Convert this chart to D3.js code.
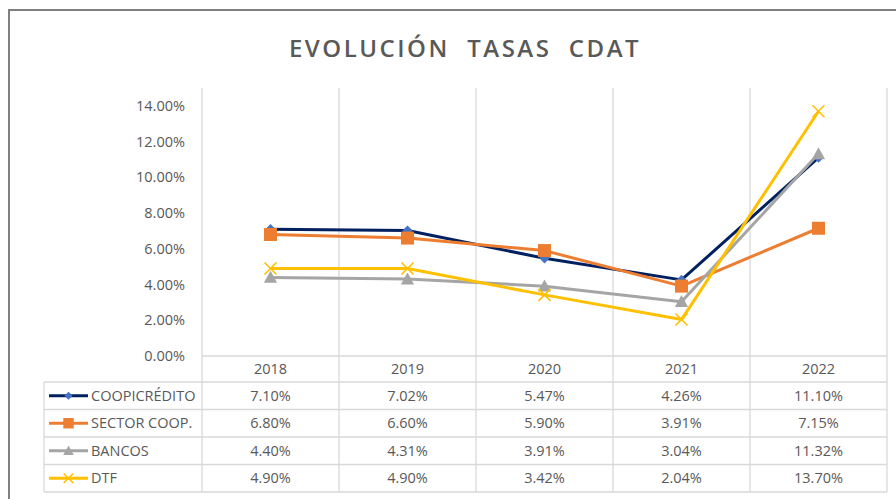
<!DOCTYPE html>
<html>
<head>
<meta charset="utf-8">
<script src="https://cdn.jsdelivr.net/npm/d3@7"></script>
<style>
  html, body { margin: 0; padding: 0; background: #fff; }
  svg { display: block; }
</style>
</head>
<body>
<div id="chart"></div>
<script>
'use strict';

var years = ['2018', '2019', '2020', '2021', '2022'];
var seriesNames = ['COOPICRÉDITO', 'SECTOR COOP.', 'BANCOS', 'DTF'];
var coopicredito = [7.10, 7.02, 5.47, 4.26, 11.10];
var sectorCoop = [6.80, 6.60, 5.90, 3.91, 7.15];
var bancos = [4.40, 4.31, 3.91, 3.04, 11.32];
var dtf = [4.90, 4.90, 3.42, 2.04, 13.70];
var yTicks = [0, 2, 4, 6, 8, 10, 12, 14];

var W = 896, H = 499;
var TEXT = '#595959';
var GRID = '#d9d9d9';
var FONT = '"Open Sans", sans-serif';

var series = [
    {name: seriesNames[0], values: coopicredito, line: '#002060', fill: '#4472c4', marker: 'diamond'},
    {name: seriesNames[1], values: sectorCoop, line: '#ed7d31', fill: '#ed7d31', marker: 'square'},
    {name: seriesNames[2], values: bancos, line: '#a5a5a5', fill: '#a5a5a5', marker: 'triangle'},
    {name: seriesNames[3], values: dtf, line: '#ffc000', fill: '#ffc000', marker: 'x'}
];

var svg = d3.select('#chart').append('svg')
    .attr('width', W)
    .attr('height', H);

// chart frame (only left and top visible in the crop)
svg.append('path')
    .attr('d', 'M9,' + H + 'V10H' + W)
    .attr('fill', 'none')
    .attr('stroke', '#808080')
    .attr('stroke-width', 2);

svg.append('text')
    .attr('x', 465)
    .attr('y', 57)
    .attr('text-anchor', 'middle')
    .attr('font-family', FONT)
    .attr('font-weight', 600)
    .attr('font-size', 24)
    .attr('letter-spacing', 2.5)
    .attr('fill', TEXT)
    .style('white-space', 'pre')
    .text('EVOLUCIÓN  TASAS  CDAT');

var plotLeft = 202, plotRight = 887, plotTop = 88, plotBottom = 356;
var tableLeft = 44, tableBottom = 492, headerBottom = 382;

var x = d3.scaleBand().domain(years).range([plotLeft, plotRight]);
var y = d3.scaleLinear().domain([0, 15]).range([plotBottom, plotTop]);
var rows = d3.scaleBand().domain(seriesNames).range([headerBottom, tableBottom]);

function cx(i) { return x(years[i]) + x.bandwidth() / 2; }

var grid = svg.append('g').attr('stroke', GRID).attr('stroke-width', 1.3);

// category boundaries run from the plot top through the table
var edges = years.map(function(d) { return x(d); }).concat([plotRight]);
grid.selectAll('line.v').data(edges).enter().append('line')
    .attr('x1', function(d) { return d; })
    .attr('x2', function(d) { return d; })
    .attr('y1', plotTop)
    .attr('y2', tableBottom);

grid.append('line')
    .attr('x1', plotLeft).attr('x2', plotRight)
    .attr('y1', plotBottom).attr('y2', plotBottom);

var rowEdges = seriesNames.map(function(d) { return rows(d); }).concat([tableBottom]);
grid.selectAll('line.h').data(rowEdges).enter().append('line')
    .attr('x1', tableLeft).attr('x2', plotRight)
    .attr('y1', function(d) { return d; })
    .attr('y2', function(d) { return d; });

grid.append('line')
    .attr('x1', tableLeft).attr('x2', tableLeft)
    .attr('y1', headerBottom).attr('y2', tableBottom);

// y axis labels
var yAxis = svg.append('g')
    .attr('transform', 'translate(' + (plotLeft - 17) + ',0)')
    .call(d3.axisLeft(y).tickValues(yTicks).tickSize(0).tickPadding(0)
        .tickFormat(function(d) { return d.toFixed(2) + '%'; }));
yAxis.select('.domain').remove();
yAxis.selectAll('text')
    .attr('font-family', FONT)
    .attr('font-size', 14.5)
    .attr('fill', TEXT);

// year header row
svg.append('g').selectAll('text').data(years).enter().append('text')
    .attr('x', function(d, i) { return cx(i); })
    .attr('y', (plotBottom + headerBottom) / 2 + 5)
    .attr('text-anchor', 'middle')
    .attr('font-family', FONT)
    .attr('font-size', 14.5)
    .attr('fill', TEXT)
    .text(function(d) { return d; });

function drawMarker(g, s, px, py, size) {
    if(s.marker === 'diamond') {
        g.append('path')
            .attr('d', d3.symbol(d3.symbolDiamond2, size * size * 0.55)())
            .attr('transform', 'translate(' + px + ',' + py + ')')
            .attr('fill', s.fill);
    } else if(s.marker === 'square') {
        g.append('rect')
            .attr('x', px - size / 2).attr('y', py - size / 2)
            .attr('width', size).attr('height', size)
            .attr('fill', s.fill);
    } else if(s.marker === 'triangle') {
        g.append('path')
            .attr('d', 'M' + px + ',' + (py - size * 0.55) +
                'L' + (px + size * 0.55) + ',' + (py + size * 0.45) +
                'L' + (px - size * 0.55) + ',' + (py + size * 0.45) + 'Z')
            .attr('fill', s.fill);
    } else {
        var h = size / 2;
        g.append('path')
            .attr('d', 'M' + (px - h) + ',' + (py - h) + 'L' + (px + h) + ',' + (py + h) +
                'M' + (px - h) + ',' + (py + h) + 'L' + (px + h) + ',' + (py - h))
            .attr('stroke', s.fill)
            .attr('stroke-width', 1.6)
            .attr('fill', 'none');
    }
}

var markerSize = {diamond: 11, square: 13, triangle: 12, x: 12};

var line = d3.line()
    .x(function(d, i) { return cx(i); })
    .y(function(d) { return y(d); });

var linesG = svg.append('g');
series.forEach(function(s) {
    linesG.append('path')
        .datum(s.values)
        .attr('d', line)
        .attr('fill', 'none')
        .attr('stroke', s.line)
        .attr('stroke-width', 3)
        .attr('stroke-linejoin', 'round');
});
series.forEach(function(s) {
    var g = linesG.append('g');
    s.values.forEach(function(v, i) {
        drawMarker(g, s, cx(i), y(v), markerSize[s.marker]);
    });
});

// data table
series.forEach(function(s) {
    var ry = rows(s.name) + rows.bandwidth() / 2;
    var g = svg.append('g');
    g.append('line')
        .attr('x1', 49).attr('x2', 88)
        .attr('y1', ry).attr('y2', ry)
        .attr('stroke', s.line)
        .attr('stroke-width', 3);
    drawMarker(g, s, 68.5, ry, markerSize[s.marker] * 0.8);
    g.append('text')
        .attr('x', 91)
        .attr('y', ry + 5)
        .attr('font-family', FONT)
        .attr('font-size', 14.5)
        .attr('fill', TEXT)
        .text(s.name);
    g.selectAll('text.v').data(s.values).enter().append('text')
        .attr('x', function(d, i) { return cx(i); })
        .attr('y', ry + 5)
        .attr('text-anchor', 'middle')
        .attr('font-family', FONT)
        .attr('font-size', 14.5)
        .attr('fill', TEXT)
        .text(function(d) { return d.toFixed(2) + '%'; });
});
</script>
</body>
</html>
